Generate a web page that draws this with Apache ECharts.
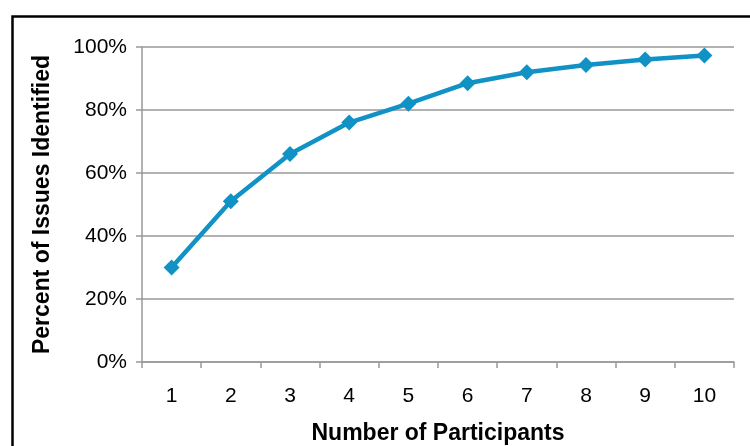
<!DOCTYPE html>
<html>
<head>
<meta charset="utf-8">
<script src="https://cdn.jsdelivr.net/npm/echarts@6/dist/echarts.min.js"></script>
<style>html,body{margin:0;padding:0;background:#fff;}#c{width:750px;height:446px;}</style>
</head>
<body>
<div id="c"></div>
<script>
const categories = ['1','2','3','4','5','6','7','8','9','10'];
const percentIdentified = [30, 51, 66, 76, 82, 88.5, 92, 94.3, 96, 97.3];
const yTicks = [0, 20, 40, 60, 80, 100];
const xTitle = 'Number of Participants';
const yTitle = 'Percent of Issues Identified';

const chart = echarts.init(document.getElementById('c'), null, {renderer: 'canvas'});
const font = 'Liberation Sans, Arial, sans-serif';
chart.setOption({
  animation: false,
  backgroundColor: '#ffffff',
  graphic: [{
    type: 'rect', left: 10, top: 14, z: 100, silent: true,
    shape: {x: 0, y: 0, width: 760, height: 460},
    style: {fill: 'none', stroke: '#000', lineWidth: 2.5}
  }],
  grid: {left: 142, right: 16, top: 47, bottom: 84, containLabel: false, outerBoundsMode: 'none'},
  xAxis: {
    type: 'category', data: categories, boundaryGap: true,
    name: xTitle, nameLocation: 'middle', nameGap: 60,
    nameTextStyle: {fontFamily: font, fontWeight: 'bold', fontSize: 23, color: '#000'},
    axisLine: {lineStyle: {color: '#999', width: 1.5}},
    axisTick: {show: true, length: 6, lineStyle: {color: '#999', width: 1.5}},
    axisLabel: {fontFamily: font, fontSize: 21, color: '#000', margin: 24},
    splitLine: {show: false}
  },
  yAxis: {
    type: 'value', min: yTicks[0], max: yTicks[yTicks.length-1], interval: 20,
    name: yTitle, nameLocation: 'middle', nameGap: 88,
    nameTextStyle: {fontFamily: font, fontWeight: 'bold', fontSize: 23, color: '#000'},
    axisLine: {show: true, lineStyle: {color: '#999', width: 1.5}},
    axisTick: {show: true, length: 6, lineStyle: {color: '#999', width: 1.5}},
    axisLabel: {fontFamily: font, fontSize: 21, color: '#000', margin: 15, formatter: '{value}%'},
    splitLine: {show: true, lineStyle: {color: '#999', width: 1.5}}
  },
  series: [{
    type: 'line', data: percentIdentified,
    symbol: 'diamond', symbolSize: 16,
    lineStyle: {color: '#1192c5', width: 4.5},
    itemStyle: {color: '#1192c5'}
  }]
});
</script>
</body>
</html>
